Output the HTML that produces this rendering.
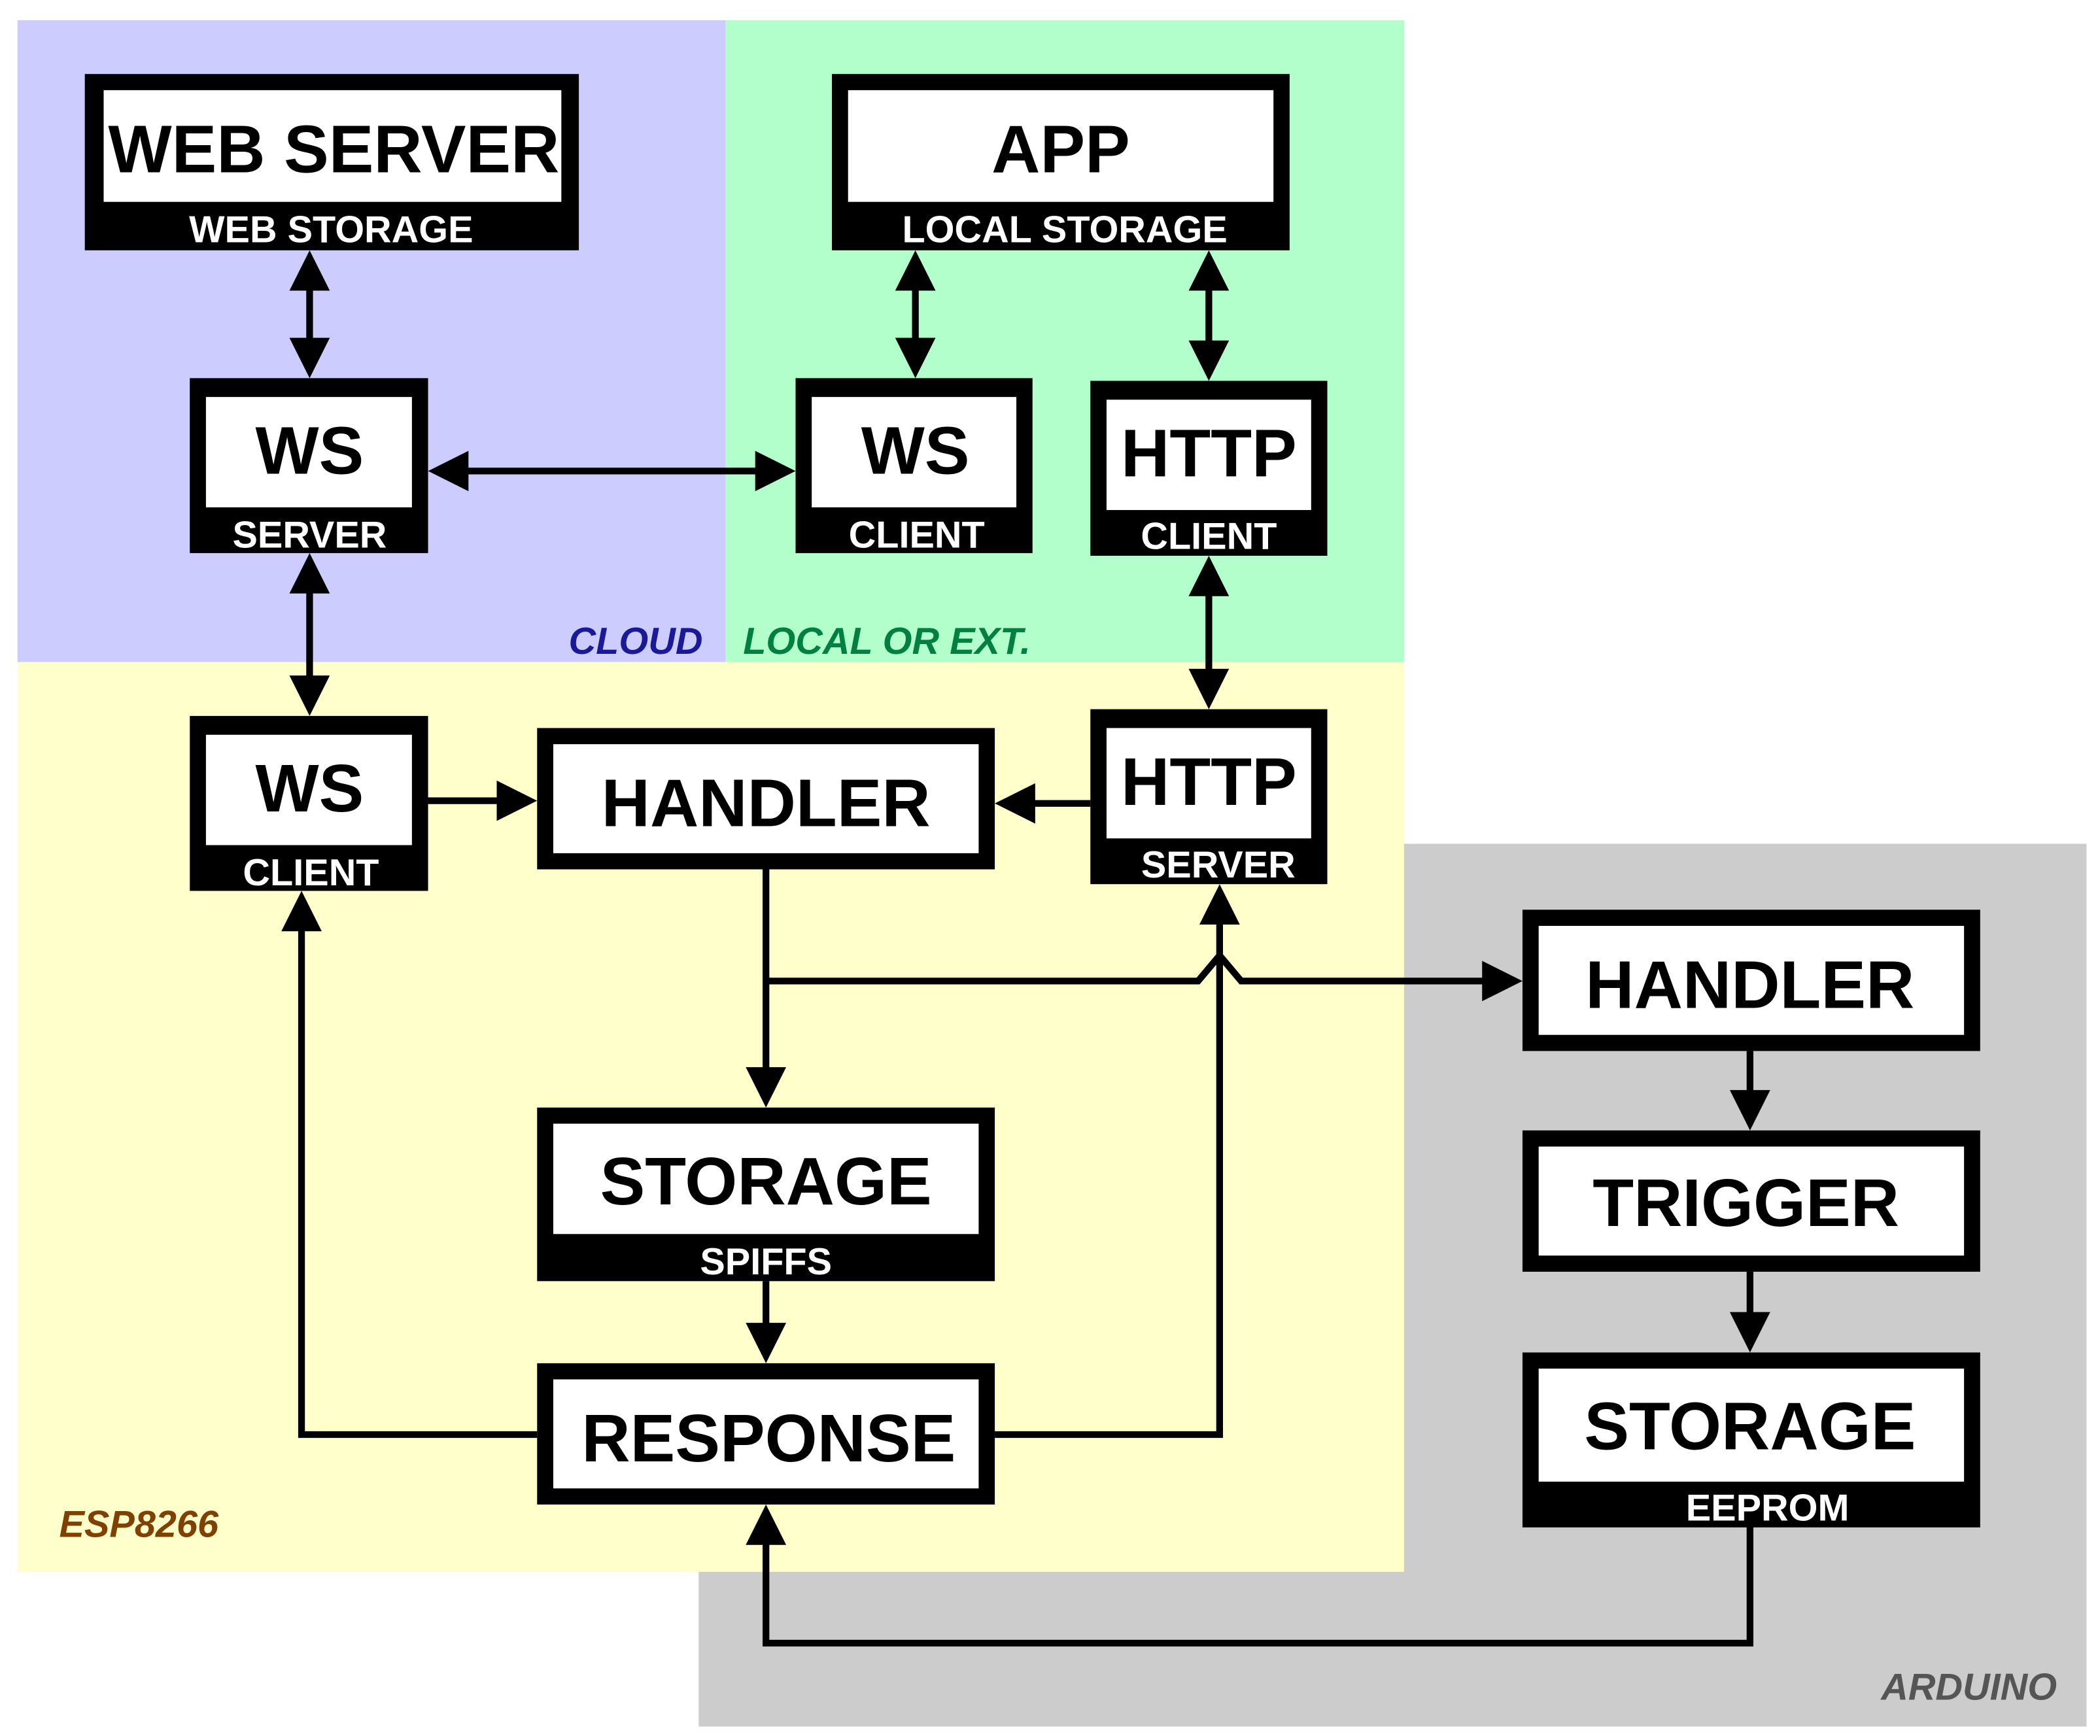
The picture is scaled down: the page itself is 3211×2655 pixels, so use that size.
<!DOCTYPE html>
<html><head><meta charset="utf-8"><style>html,body{margin:0;padding:0;background:#fff}svg{display:block}</style></head><body>
<svg width="3211" height="2655" viewBox="0 0 1560 1290" preserveAspectRatio="none" xmlns="http://www.w3.org/2000/svg" font-family="Liberation Sans, sans-serif" font-weight="bold">
<defs>
<marker id="a" viewBox="0 0 10 10" refX="10" refY="5" markerWidth="7" markerHeight="6.5" markerUnits="userSpaceOnUse" orient="auto"></marker>
</defs>
<rect x="519" y="627" width="1031" height="656" fill="#cccccc"/>
<rect x="13" y="15" width="526" height="477" fill="#ccccff"/>
<rect x="539" y="15" width="504" height="477" fill="#b3ffcc"/>
<rect x="13" y="492" width="1030" height="676" fill="#ffffcc"/>

<g stroke="#000" stroke-width="5" fill="none">
<line x1="230" y1="200" x2="230" y2="268"/>
<line x1="680" y1="200" x2="680" y2="268"/>
<line x1="898" y1="200" x2="898" y2="270"/>
<line x1="332" y1="350" x2="578" y2="350"/>
<line x1="230" y1="425" x2="230" y2="519"/>
<line x1="898" y1="427" x2="898" y2="514"/>
<line x1="318" y1="595" x2="380" y2="595"/>
<line x1="810" y1="597" x2="760" y2="597"/>
<line x1="569" y1="646" x2="569" y2="805"/>
<polyline points="569,729 890,729 906,710 922,729 1110,729"/>
<line x1="569" y1="952" x2="569" y2="995"/>
<polyline points="399,1066 224,1066 224,685"/>
<polyline points="739,1066 906,1066 906,680"/>
<line x1="1300" y1="781" x2="1300" y2="822"/>
<line x1="1300" y1="945" x2="1300" y2="987"/>
<polyline points="1300,1135 1300,1221 569,1221 569,1140"/>
</g>
<g fill="#000">
<!-- up/down heads -->
<polygon points="230,186 215,216 245,216"/><polygon points="230,281 215,251 245,251"/>
<polygon points="680,186 665,216 695,216"/><polygon points="680,281 665,251 695,251"/>
<polygon points="898,186 883,216 913,216"/><polygon points="898,283 883,253 913,253"/>
<polygon points="318,350 348,335 348,365"/><polygon points="591,350 561,335 561,365"/>
<polygon points="230,411 215,441 245,441"/><polygon points="230,532 215,502 245,502"/>
<polygon points="898,413 883,443 913,443"/><polygon points="898,527 883,497 913,497"/>
<polygon points="399,595 369,580 369,610"/>
<polygon points="739,597 769,582 769,612"/>
<polygon points="569,823 554,793 584,793"/>
<polygon points="1131,729 1101,714 1101,744"/>
<polygon points="569,1013 554,983 584,983"/>
<polygon points="224,662 209,692 239,692"/>
<polygon points="906,657 891,687 921,687"/>
<polygon points="1300,840 1285,810 1315,810"/>
<polygon points="1300,1005 1285,975 1315,975"/>
<polygon points="569,1118 554,1148 584,1148"/>
</g>

<!-- boxes with label band -->
<g>
<rect x="63" y="55" width="367" height="131" fill="#000"/><rect x="77" y="67" width="340" height="83" fill="#fff"/>
<rect x="618" y="55" width="340" height="131" fill="#000"/><rect x="630" y="67" width="316" height="83" fill="#fff"/>
<rect x="141" y="281" width="177" height="130" fill="#000"/><rect x="153" y="295" width="153" height="82" fill="#fff"/>
<rect x="591" y="281" width="176" height="130" fill="#000"/><rect x="603" y="295" width="152" height="82" fill="#fff"/>
<rect x="810" y="283" width="176" height="130" fill="#000"/><rect x="822" y="297" width="152" height="82" fill="#fff"/>
<rect x="141" y="532" width="177" height="130" fill="#000"/><rect x="153" y="546" width="153" height="82" fill="#fff"/>
<rect x="810" y="527" width="176" height="130" fill="#000"/><rect x="822" y="541" width="152" height="82" fill="#fff"/>
<rect x="399" y="541" width="340" height="105" fill="#000"/><rect x="411" y="553" width="316" height="81" fill="#fff"/>
<rect x="399" y="823" width="340" height="129" fill="#000"/><rect x="411" y="835" width="316" height="82" fill="#fff"/>
<rect x="399" y="1013" width="340" height="105" fill="#000"/><rect x="411" y="1025" width="316" height="81" fill="#fff"/>
<rect x="1131" y="676" width="340" height="105" fill="#000"/><rect x="1143" y="688" width="316" height="81" fill="#fff"/>
<rect x="1131" y="840" width="340" height="105" fill="#000"/><rect x="1143" y="852" width="316" height="81" fill="#fff"/>
<rect x="1131" y="1005" width="340" height="130" fill="#000"/><rect x="1143" y="1017" width="316" height="84" fill="#fff"/>
</g>

<g font-size="50" text-anchor="middle" fill="#000">
<text x="248" y="128">WEB SERVER</text>
<text x="788" y="128">APP</text>
<text x="230" y="352">WS</text>
<text x="680" y="352">WS</text>
<text x="898" y="354">HTTP</text>
<text x="230" y="603">WS</text>
<text x="898" y="598">HTTP</text>
<text x="569" y="614">HANDLER</text>
<text x="569" y="895">STORAGE</text>
<text x="571" y="1086">RESPONSE</text>
<text x="1300" y="749">HANDLER</text>
<text x="1297" y="911">TRIGGER</text>
<text x="1300" y="1077">STORAGE</text>
</g>
<g font-size="28" text-anchor="middle" fill="#fff">
<text x="246" y="180">WEB STORAGE</text>
<text x="791" y="180">LOCAL STORAGE</text>
<text x="230" y="407">SERVER</text>
<text x="681" y="407">CLIENT</text>
<text x="898" y="408">CLIENT</text>
<text x="231" y="658">CLIENT</text>
<text x="905" y="652">SERVER</text>
<text x="569" y="947">SPIFFS</text>
<text x="1313" y="1130">EEPROM</text>
</g>
<g font-size="28" font-style="italic">
<text x="522" y="486" text-anchor="end" fill="#1a1a99">CLOUD</text>
<text x="552" y="486" fill="#008040">LOCAL OR EXT.</text>
<text x="44" y="1142" fill="#804000">ESP8266</text>
<text x="1528" y="1263" text-anchor="end" fill="#555">ARDUINO</text>
</g>
</svg>
</body></html>
